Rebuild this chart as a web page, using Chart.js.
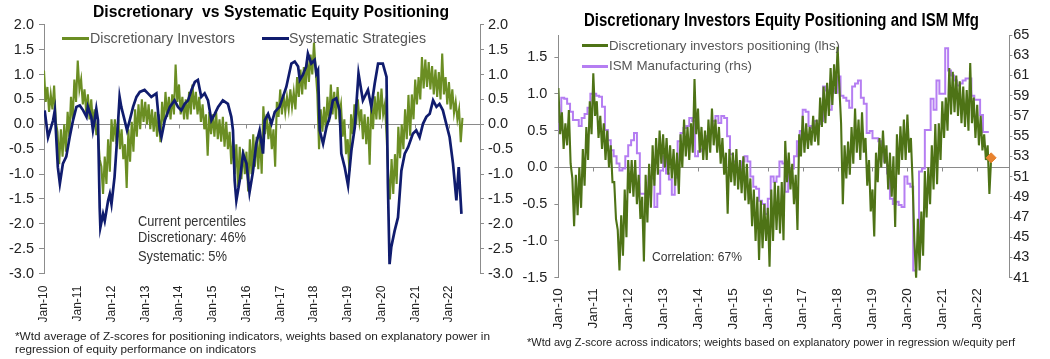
<!DOCTYPE html>
<html>
<head>
<meta charset="utf-8">
<script src="https://cdn.jsdelivr.net/npm/chart.js@4.4.1/dist/chart.umd.min.js"></script>
<style>
  html, body { margin: 0; padding: 0; background: #fff; }
  body { width: 1050px; height: 359px; position: relative; overflow: hidden; font-family: "Liberation Sans", Arial, sans-serif; color: #333; }
  canvas { position: absolute; top: 0; }
  #c1 { left: 0; }
  #c2 { left: 518px; }
  .txt { position: absolute; white-space: nowrap; line-height: 1; transform: translateY(-50%); transform-origin: left center; }
  .title { font-weight: bold; color: #000; }
  .leg { color: #555; }
  .key { position: absolute; height: 3px; }
  .note { color: #222; }
</style>
</head>
<body>
<canvas id="c1" width="518" height="330"></canvas>
<canvas id="c2" width="532" height="340"></canvas>

<!-- left chart texts -->
<div class="txt title" data-w="356" style="left:93px;top:11px;font-size:17px">Discretionary&nbsp; vs Systematic Equity Positioning</div>
<div class="key" style="left:62px;top:37px;width:27px;background:#6B8E23"></div>
<div class="txt leg" data-w="145" style="left:90px;top:38px;font-size:14px">Discretionary Investors</div>
<div class="key" style="left:262px;top:37px;width:27px;background:#101C6E"></div>
<div class="txt leg" data-w="137" style="left:289px;top:38px;font-size:14px">Systematic Strategies</div>
<div class="txt" data-w="108" style="left:138px;top:221px;font-size:14px">Current percentiles</div>
<div class="txt" data-w="108" style="left:138px;top:237px;font-size:14px">Discretionary: 46%</div>
<div class="txt" data-w="89" style="left:138px;top:256px;font-size:14px">Systematic: 5%</div>
<div class="txt note" data-w="475" style="left:15px;top:336px;font-size:11px">*Wtd average of Z-scores for positioning indicators, weights based on explanatory power in</div>
<div class="txt note" data-w="241" style="left:15px;top:349px;font-size:11px">regression of equity performance on indicators</div>

<!-- right chart texts -->
<div class="txt title" data-w="395" style="left:584px;top:20px;font-size:18px">Discretionary Investors Equity Positioning and ISM Mfg</div>
<div class="key" style="left:582px;top:44px;width:26px;background:#4E7316"></div>
<div class="txt leg" data-w="231" style="left:609px;top:46px;font-size:13.5px">Discretionary investors positioning (lhs)</div>
<div class="key" style="left:582px;top:65px;width:26px;background:#B57EF2"></div>
<div class="txt leg" data-w="143" style="left:609px;top:66px;font-size:13.5px">ISM Manufacturing (rhs)</div>
<div class="txt" data-w="90" style="left:652px;top:256px;font-size:13px">Correlation: 67%</div>
<div class="txt note" data-w="488" style="left:527px;top:342px;font-size:11px">*Wtd avg Z-score across indicators; weights based on explanatory power in regression w/equity perf</div>

<script>
// Years shown on the date axis (decimal years)
const yearTicks = [2010, 2011, 2012, 2013, 2014, 2015, 2016, 2017, 2018, 2019, 2020, 2021, 2022];

// Discretionary investors positioning (z-score), one reading every 0.05 year from Jan-2010
const discStart = 2010;
const discStep = 0.05;
const discValues = [
  1.08, 0.45, 0.75, 0.25, 0.60, 0.30, 0.78, 0.05, -0.15, -0.80, -0.10, -0.65, 0.00, -0.55, 0.25, -0.25, 0.55, 0.10, 0.90, 0.45,
  1.28, 0.70, 0.90, 0.40, 0.70, 0.25, 0.60, 0.10, 0.50, 0.00, 0.30, -0.20, -0.20, -0.70, -0.85, -1.40, -0.65, -1.20, -0.30, -0.95,
  0.10, -0.35, 0.10, -0.40, 0.10, -0.50, -0.10, -0.70, -0.40, -1.28, -0.10, -0.75, 0.05, -0.55, 0.30, -0.25, 0.40, -0.10, 0.50, 0.05,
  0.45, 0.00, 0.40, -0.10, 0.30, -0.15, 0.25, -0.25, 0.20, -0.36, 0.45, 0.00, 0.65, 0.15, 0.55, 0.10, 0.60, 0.20, 1.20, 0.45,
  0.80, 0.20, 0.55, 0.10, 0.50, 0.10, 0.65, 0.20, 0.80, 0.30, 0.65, 0.20, 0.55, 0.05, 0.40, -0.10, 0.20, -0.63, 0.25, -0.20,
  0.20, -0.25, 0.25, -0.30, 0.10, -0.35, 0.15, -0.45, 0.05, -0.50, -0.15, -0.80, -0.30, -1.00, -0.40, -1.26, -0.45, -1.10, -0.50, -1.00,
  -0.55, -1.35, -0.30, -1.00, -0.20, -0.85, -0.25, -0.90, -0.20, -0.99, 0.36, -0.20, 0.20, -0.30, 0.05, -0.50, -0.10, -0.85, 0.45, 0.15,
  0.70, 0.20, 0.60, 0.25, 0.55, 0.30, 0.70, 0.35, 0.65, 0.30, 0.95, 0.55, 1.10, 0.60, 1.15, 0.70, 1.35, 0.85, 1.40, 1.00,
  1.64, 1.10, 0.60, -0.50, 0.30, -0.15, 0.35, -0.10, 0.55, 0.05, 0.80, 0.20, 0.65, 0.10, 0.75, 0.20, 0.40, -0.25, 0.10, -0.60,
  -0.30, -0.94, 0.20, -0.20, 0.40, 0.00, 0.50, 0.05, 0.30, -0.30, 0.20, -0.40, 0.15, -0.81, 0.45, -0.10, 0.56, 0.10, 0.65, 0.10,
  0.72, 0.20, 0.40, -0.20, -1.00, -1.51, -0.70, -1.40, -0.60, -1.20, -0.05, -0.68, 0.00, -0.50, 0.30, -0.30, 0.59, -0.23, 0.60, 0.10,
  0.90, 0.40, 0.95, 0.50, 1.35, 0.72, 1.30, 0.75, 1.25, 0.70, 1.17, 0.60, 1.10, 0.55, 1.05, 0.50, 1.42, 0.60, 0.95, 0.40,
  0.85, 0.30, 0.70, 0.23, 0.45, 0.10, 0.30, -0.36, 0.13
];

// Systematic strategies positioning (z-score)
const sysDates = [
  2010.02, 2010.12, 2010.27, 2010.32, 2010.41, 2010.47, 2010.56, 2010.66, 2010.76, 2010.86, 2010.96,
  2011.06, 2011.16, 2011.26, 2011.30, 2011.40, 2011.45, 2011.50, 2011.55, 2011.60, 2011.65, 2011.67, 2011.75, 2011.80, 2011.90, 2011.95,
  2012.00, 2012.09, 2012.15, 2012.24, 2012.29, 2012.39, 2012.46, 2012.54, 2012.64, 2012.74, 2012.84, 2012.98,
  2013.08, 2013.18, 2013.33, 2013.43, 2013.48, 2013.58, 2013.73, 2013.87, 2013.97,
  2014.07, 2014.17, 2014.27, 2014.37, 2014.47, 2014.56, 2014.66, 2014.76, 2014.86, 2014.96,
  2015.06, 2015.16, 2015.30, 2015.45, 2015.55, 2015.60, 2015.65, 2015.70, 2015.80, 2015.90,
  2016.00, 2016.09, 2016.19, 2016.29, 2016.39, 2016.49, 2016.54, 2016.64, 2016.74, 2016.84, 2016.98,
  2017.18, 2017.33, 2017.43, 2017.53, 2017.58, 2017.67, 2017.77, 2017.82, 2017.92,
  2018.02, 2018.07, 2018.12, 2018.17, 2018.27, 2018.37, 2018.47, 2018.56, 2018.66, 2018.76, 2018.81, 2018.91,
  2019.01, 2019.11, 2019.21, 2019.32, 2019.45, 2019.60, 2019.70, 2019.80, 2019.90,
  2020.04, 2020.15, 2020.19, 2020.24, 2020.29, 2020.39, 2020.49, 2020.59, 2020.69, 2020.79, 2020.93,
  2021.03, 2021.13, 2021.23, 2021.33, 2021.43, 2021.53, 2021.63, 2021.72, 2021.82, 2021.92,
  2022.02, 2022.12, 2022.22, 2022.29, 2022.37
];
const sysValues = [
  0.28, -0.26, 0.08, 0.28, -0.86, -1.19, -0.79, -0.65, -0.26, 0.08, 0.35,
  0.38, 0.28, 0.15, 0.35, 0.15, -0.12, 0.08, 0.31, 0.08, -1.67, -2.07, -1.80, -1.94, -1.53, -1.40,
  -1.60, -1.06, -0.46, 0.55, 0.35, 0.08, -0.12, 0.08, 0.35, 0.55, 0.65, 0.69,
  0.62, 0.55, 0.62, -0.12, -0.26, 0.08, 0.35, 0.48, 0.35,
  0.28, 0.41, 0.48, 0.69, 0.85, 0.89, 0.55, 0.62, 0.48, 0.08,
  0.21, 0.35, 0.48, 0.41, 0.15, -0.12, -1.13, -1.53, -1.13, -0.59,
  -0.79, -1.37, -0.96, -0.39, -0.12, -0.59, 0.08, 0.21, 0.01, 0.25, 0.35,
  0.75, 1.22, 1.26, 1.16, 0.89, 0.99, 1.16, 1.42, 1.22,
  1.29, 1.02, 1.09, -0.12, -0.39, -0.06, 0.15, 0.48, 0.52, 0.28, -0.59, -0.86,
  -1.23, -0.52, -0.06, 1.02, 0.48, 0.69, 0.35, 0.82, 1.22,
  1.22, 0.95, -1.19, -2.81, -2.47, -2.14, -1.87, -0.93, -0.59, -0.46, -0.19,
  -0.12, -0.26, 0.01, 0.15, 0.21, 0.48, 0.35, 0.41, 0.28, 0.01,
  -0.26, -0.79, -1.53, -0.86, -1.80
];

// ISM Manufacturing, monthly from Jan-2010 to Apr-2022
const ismStart = 2010;
const ismValues = [
  56.3, 55.6, 58.8, 58.7, 58.2, 57.4, 56.6, 56.6, 56.0, 56.8, 57.2, 57.8,
  59.2, 59.2, 59.0, 58.9, 57.9, 55.6, 54.6, 53.6, 53.0, 52.3, 51.6, 51.8,
  53.0, 54.1, 54.6, 55.3, 53.3, 49.3, 49.3, 49.0, 51.0, 50.8, 48.0, 49.3,
  51.6, 53.0, 51.3, 50.7, 49.2, 50.9, 54.5, 55.3, 55.8, 56.0, 56.8, 56.5,
  53.0, 53.5, 53.7, 54.5, 55.0, 55.3, 56.5, 57.0, 56.3, 57.0, 56.8, 55.0,
  53.2, 52.5, 51.5, 51.5, 52.5, 53.0, 52.5, 51.0, 50.0, 49.8, 48.6, 48.3,
  47.3, 48.8, 51.0, 50.5, 51.0, 52.5, 52.3, 49.5, 51.3, 51.8, 53.0, 54.5,
  55.5, 57.6, 57.4, 56.0, 55.8, 56.5, 56.2, 56.5, 59.9, 59.5, 57.6, 59.7,
  59.3, 60.9, 59.0, 58.8, 58.5, 57.8, 59.9, 60.2, 60.5, 58.8, 58.2, 55.3,
  55.5, 54.8, 54.8, 54.5, 54.0, 52.5, 51.3, 48.8, 48.3, 48.5, 48.2, 48.0,
  51.0, 50.3, 50.0, 41.7, 43.5, 51.5, 51.8, 55.6, 55.6, 58.7, 57.6, 60.5,
  59.2, 59.2, 63.7, 61.5, 61.0, 60.5, 60.0, 60.2, 60.5, 60.7, 60.7, 59.0,
  58.6, 58.6, 57.1, 55.4
];

const GREEN_L = '#6B8E23';
const GREEN_R = '#4E7316';
const NAVY = '#101C6E';
const PURPLE = '#B57EF2';
const AXIS = '#8c8c8c';

// squeeze / stretch each overlay text to the width it has in the source
document.querySelectorAll('[data-w]').forEach(el => {
  const w = el.getBoundingClientRect().width;
  el.style.transform = 'translateY(-50%) scaleX(' + (+el.dataset.w / w) + ')';
});

const discDates = discValues.map((v, i) => +(discStart + i * discStep).toFixed(2));
const discPoints = discValues.map((v, i) => ({ x: discDates[i], y: v }));
const sysPoints = sysValues.map((v, i) => ({ x: sysDates[i], y: v }));
// the last month is held until the end of the month
const ismPoints = ismValues.map((v, i) => ({ x: ismStart + i / 12, y: v }));
ismPoints.push({ x: ismStart + ismValues.length / 12, y: ismValues[ismValues.length - 1] });
const lastIdx = discValues.length - 1;

// zero line with small year ticks, drawn under the series
const zeroLine = {
  id: 'zeroLine',
  beforeDatasetsDraw(chart) {
    const { ctx, chartArea, scales } = chart;
    const y0 = Math.round(scales.y.getPixelForValue(0)) + 0.5;
    ctx.save();
    ctx.strokeStyle = '#8a8a8a';
    ctx.lineWidth = 1;
    ctx.beginPath();
    ctx.moveTo(chartArea.left, y0);
    ctx.lineTo(chartArea.right, y0);
    yearTicks.forEach(v => {
      const px = Math.round(scales.x.getPixelForValue(v)) + 0.5;
      ctx.moveTo(px, y0);
      ctx.lineTo(px, y0 + 4);
    });
    ctx.stroke();
    ctx.restore();
  }
};

function xAxis(fontSize, pad, height) {
  return {
    type: 'linear',
    min: 2010,
    max: 2022.92,
    afterBuildTicks: s => { s.ticks = yearTicks.map(v => ({ value: v })); },
    afterFit: s => { s.height = height; },
    ticks: {
      callback: v => 'Jan-' + String(v).slice(2),
      minRotation: 90,
      maxRotation: 90,
      autoSkip: false,
      padding: pad,
      color: '#222',
      font: { family: '"Liberation Sans", Arial, sans-serif', size: fontSize }
    },
    grid: { display: false, drawTicks: false },
    border: { display: false }
  };
}

function yAxis(opts) {
  return Object.assign({
    type: 'linear',
    afterFit: s => { s.width = opts.width; },
    ticks: {
      stepSize: opts.step,
      autoSkip: false,
      padding: opts.pad,
      color: '#222',
      font: { family: '"Liberation Sans", Arial, sans-serif', size: opts.font },
      callback: opts.fmt
    },
    grid: { drawOnChartArea: false, tickLength: opts.tick, color: AXIS },
    border: { color: AXIS }
  }, opts.extra);
}

// Left chart: discretionary vs systematic
new Chart(document.getElementById('c1'), {
  type: 'line',
  data: {
    datasets: [
      { label: 'Discretionary Investors', data: discPoints, borderColor: GREEN_L, borderWidth: 2.1, pointRadius: 0, order: 2 },
      { label: 'Systematic Strategies', data: sysPoints, borderColor: NAVY, borderWidth: 2.7, pointRadius: 0, order: 1 }
    ]
  },
  options: {
    responsive: false,
    animation: false,
    layout: { padding: { top: 24.7, bottom: 0, left: 0, right: 0 } },
    plugins: { legend: { display: false }, tooltip: { enabled: false } },
    scales: {
      x: xAxis(12, 12, 56.3),
      y: yAxis({ width: 44, step: 0.5, pad: 5, font: 14.5, tick: 5, fmt: v => v.toFixed(1),
                 extra: { min: -3, max: 2, position: 'left' } }),
      y2: yAxis({ width: 38, step: 0.5, pad: 4, font: 14.5, tick: 4, fmt: v => v.toFixed(1),
                  extra: { min: -3, max: 2, position: 'right' } })
    }
  },
  plugins: [zeroLine]
});

// Right chart: discretionary positioning and ISM
new Chart(document.getElementById('c2'), {
  type: 'line',
  data: {
    datasets: [
      { label: 'Last', data: [{ x: discDates[lastIdx], y: discValues[lastIdx] }], showLine: false,
        pointStyle: 'rectRot', pointRadius: 5, backgroundColor: '#E8822E', borderColor: '#E8822E', order: 0 },
      { label: 'Discretionary investors positioning (lhs)', data: discPoints, borderColor: GREEN_R, borderWidth: 2.1, pointRadius: 0, order: 1 },
      { label: 'ISM Manufacturing (rhs)', data: ismPoints, yAxisID: 'y2', stepped: 'after', borderColor: PURPLE, borderWidth: 2, pointRadius: 0, order: 2 }
    ]
  },
  options: {
    responsive: false,
    animation: false,
    layout: { padding: { top: 35, bottom: 0, left: 0, right: 0 } },
    plugins: { legend: { display: false }, tooltip: { enabled: false } },
    scales: {
      x: xAxis(13.5, 10.5, 62.3),
      y: yAxis({ width: 40.4, step: 0.5, pad: 7, font: 14.5, tick: 4, fmt: v => v.toFixed(1),
                 extra: { min: -1.5, max: 1.8, position: 'left',
                          afterBuildTicks: s => { s.ticks = s.ticks.filter(t => Math.abs(t.value * 2 - Math.round(t.value * 2)) < 1e-6); } } }),
      y2: yAxis({ width: 40.7, step: 2, pad: 1, font: 14.5, tick: 3, fmt: v => String(v),
                  extra: { min: 41, max: 65, position: 'right' } })
    }
  },
  plugins: [zeroLine]
});
</script>
</body>
</html>
